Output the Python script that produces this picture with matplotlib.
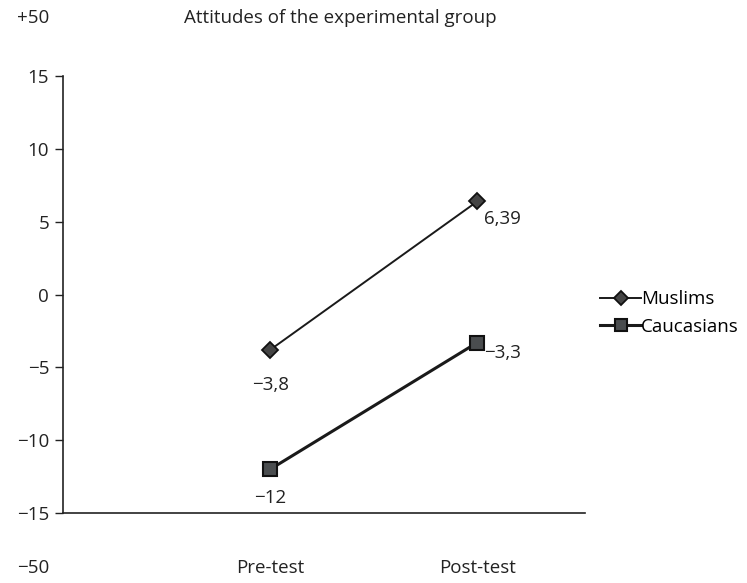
import matplotlib
matplotlib.use("Agg")
import matplotlib.pyplot as plt

plt.rcParams['font.family'] = ['Open Sans', 'DejaVu Sans']

categories = ["Pre-test", "Post-test"]
muslims = [-3.8, 6.39]
caucasians = [-12, -3.3]
muslim_labels = ["\u22123,8", "6,39"]
caucasian_labels = ["\u221212", "\u22123,3"]
ytick_vals = [15, 10, 5, 0, -5, -10, -15]
ytick_labels = ["15", "10", "5", "0", "\u22125", "\u221210", "\u221215"]
title = "Attitudes of the experimental group"

W, H = 747, 583
fig = plt.figure(figsize=(W/100, H/100), dpi=100)
ax = fig.add_axes([63/W, 1-513/H, (585-63)/W, (513-76)/H])

fs = 13.5
c = '#222222'

x = [1, 2]
l1, = ax.plot(x, muslims, color='#1a1a1a', lw=1.4, marker='D', markersize=8.5,
              markerfacecolor='#444444', markeredgecolor='#111111', markeredgewidth=1.3,
              label='Muslims', zorder=3)
l2, = ax.plot(x, caucasians, color='#1a1a1a', lw=2.2, marker='s', markersize=10,
              markerfacecolor='#4a4d4f', markeredgecolor='#111111', markeredgewidth=1.5,
              label='Caucasians', zorder=3)

ax.set_xlim(0, 2.52)
ax.set_ylim(-15, 15)
ax.set_yticks(ytick_vals)
ax.set_yticklabels(ytick_labels)
ax.set_xticks(x)
ax.set_xticklabels(categories)
ax.tick_params(axis='y', direction='out', length=6, width=1, colors=c,
               labelsize=fs, pad=4)
ax.tick_params(axis='x', length=0, labelsize=fs, pad=33, colors=c)
for s in ['top', 'right']:
    ax.spines[s].set_visible(False)
for s in ['left', 'bottom']:
    ax.spines[s].set_color(c)
    ax.spines[s].set_linewidth(1.2)

ax.annotate(muslim_labels[0], (x[0], muslims[0]), xytext=(0, -19), textcoords='offset points',
            ha='center', va='top', fontsize=fs, color=c)
ax.annotate(muslim_labels[1], (x[1], muslims[1]), xytext=(5, -6), textcoords='offset points',
            ha='left', va='top', fontsize=fs, color=c)
ax.annotate(caucasian_labels[0], (x[0], caucasians[0]), xytext=(0, -14), textcoords='offset points',
            ha='center', va='top', fontsize=fs, color=c)
ax.annotate(caucasian_labels[1], (x[1], caucasians[1]), xytext=(5, -1), textcoords='offset points',
            ha='left', va='top', fontsize=fs, color=c)

fig.text(17/W, 1-18/H, "+50", fontsize=fs, color=c, va='center', ha='left')
fig.text(17/W, 1-568/H, "\u221250", fontsize=fs, color=c, va='center', ha='left')
fig.text(340/W, 1-18/H, title, fontsize=fs, color=c, va='center', ha='center')

fig.legend(handles=[l1, l2], loc='center left', bbox_to_anchor=(600/W, 1-313/H),
           frameon=False, fontsize=fs, handlelength=2.2, handletextpad=0.0,
           labelspacing=0.5, borderaxespad=0, borderpad=0, markerscale=0.85)

fig.savefig("out.png", dpi=100)
